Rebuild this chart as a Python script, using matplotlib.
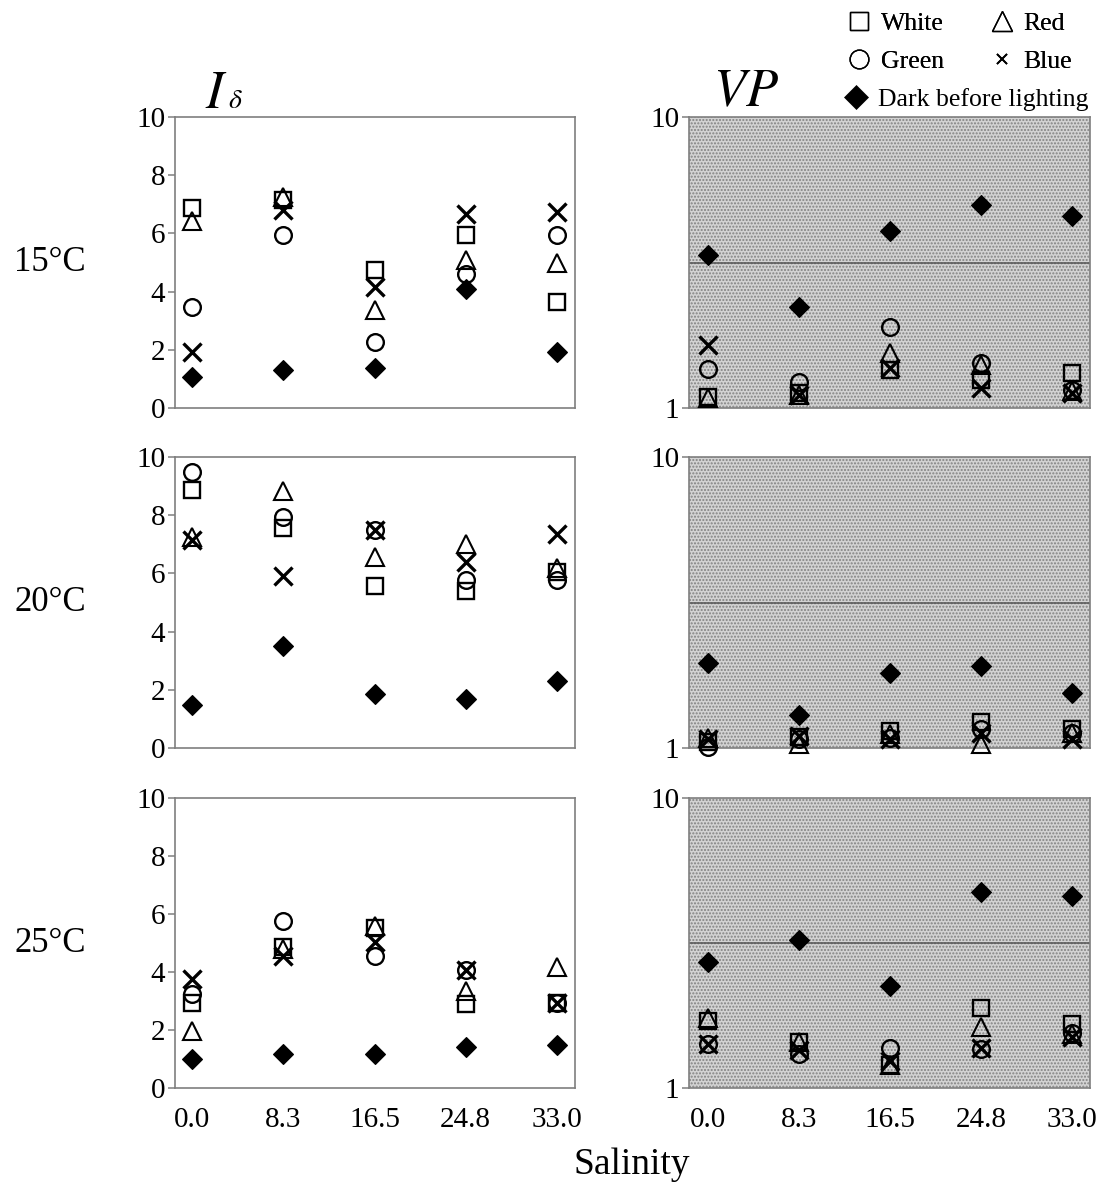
import numpy as np
import matplotlib
matplotlib.use("Agg")
import matplotlib.pyplot as plt
from matplotlib.lines import Line2D
from matplotlib.patches import Rectangle
from matplotlib.ticker import NullLocator

plt.rcParams['font.family'] = ['Liberation Serif', 'DejaVu Serif']
plt.rcParams['mathtext.fontset'] = 'stix'
plt.rcParams['hatch.linewidth'] = 1.0

# ---------------- data ----------------
salinity_labels = ["0.0", "8.3", "16.5", "24.8", "33.0"]
temperatures = ["15°C", "20°C", "25°C"]
series_names = ["White", "Red", "Green", "Blue", "Dark before lighting"]

# I_delta (linear axis)
id15_white = [6.88, 7.15, 4.73, 5.96, 3.65]
id15_red   = [6.44, 7.24, 3.36, 5.07, 4.98]
id15_green = [3.48, 5.93, 2.28, 4.62, 5.96]
id15_blue  = [1.92, 6.80, 4.16, 6.67, 6.75]
id15_dark  = [1.05, 1.29, 1.37, 4.10, 1.92]

id20_white = [8.86, 7.57, 5.55, 5.38, 6.06]
id20_red   = [7.25, 8.84, 6.57, 7.02, 6.17]
id20_green = [9.50, 7.95, 7.50, 5.77, 5.77]
id20_blue  = [7.14, 5.91, 7.50, 6.40, 7.36]
id20_dark  = [1.49, 3.52, 1.85, 1.70, 2.31]

id25_white = [2.93, 4.85, 5.53, 2.90, 2.92]
id25_red   = [1.98, 4.79, 5.59, 3.36, 4.16]
id25_green = [3.24, 5.76, 4.56, 4.07, 2.92]
id25_blue  = [3.76, 4.56, 5.02, 4.07, 2.92]
id25_dark  = [1.01, 1.18, 1.18, 1.41, 1.47]

# VP (log axis)
vp15_white = [1.09, 1.13, 1.35, 1.25, 1.32]
vp15_red   = [1.08, 1.11, 1.54, 1.40, 1.14]
vp15_green = [1.36, 1.23, 1.90, 1.43, 1.15]
vp15_blue  = [1.65, 1.11, 1.37, 1.17, 1.13]
vp15_dark  = [3.35, 2.23, 4.07, 4.99, 4.56]

vp20_white = [1.05, 1.09, 1.14, 1.23, 1.16]
vp20_red   = [1.08, 1.03, 1.12, 1.03, 1.13]
vp20_green = [1.01, 1.07, 1.08, 1.16, 1.13]
vp20_blue  = [1.07, 1.10, 1.07, 1.13, 1.07]
vp20_dark  = [1.96, 1.30, 1.81, 1.92, 1.55]

vp25_white = [1.70, 1.44, 1.20, 1.88, 1.66]
vp25_red   = [1.75, 1.44, 1.20, 1.62, 1.54]
vp25_green = [1.42, 1.31, 1.37, 1.36, 1.55]
vp25_blue  = [1.42, 1.35, 1.24, 1.37, 1.50]
vp25_dark  = [2.71, 3.25, 2.25, 4.75, 4.61]

vp_threshold = np.sqrt(10.0)

id_rows = [
    [id15_white, id15_red, id15_green, id15_blue, id15_dark],
    [id20_white, id20_red, id20_green, id20_blue, id20_dark],
    [id25_white, id25_red, id25_green, id25_blue, id25_dark],
]
vp_rows = [
    [vp15_white, vp15_red, vp15_green, vp15_blue, vp15_dark],
    [vp20_white, vp20_red, vp20_green, vp20_blue, vp20_dark],
    [vp25_white, vp25_red, vp25_green, vp25_blue, vp25_dark],
]

# ---------------- styles ----------------
styles = [
    dict(marker='s', ms=11.5, mfc='none', mec='black', mew=1.7),
    dict(marker='^', ms=12.5, mfc='none', mec='black', mew=1.5),
    dict(marker='o', ms=12.0, mfc='none', mec='black', mew=1.7),
    dict(marker='x', ms=13.5, mfc='none', mec='black', mew=2.4),
    dict(marker='D', ms=10.0, mfc='black', mec='black', mew=0.8),
]

W, H = 1101, 1191
fig = plt.figure(figsize=(W / 100, H / 100), dpi=100)

left_x0, left_w = 175 / W, 400 / W
right_x0, right_w = 689 / W, 401 / W
row_tops = [117, 457, 798]
row_bottoms = [408, 748, 1088]

spine_col = '#7f7f7f'
xpos = np.arange(len(salinity_labels))

axes_left, axes_right = [], []
for r in range(3):
    b = 1 - row_bottoms[r] / H
    h = (row_bottoms[r] - row_tops[r]) / H
    axL = fig.add_axes([left_x0, b, left_w, h])
    axR = fig.add_axes([right_x0, b, right_w, h])
    axes_left.append(axL)
    axes_right.append(axR)

    # left: I_delta
    for vals, st in zip(id_rows[r], styles):
        axL.plot(xpos, vals, linestyle='none', clip_on=False, **st)
    axL.set_xlim(-0.19, 4.2)
    axL.set_ylim(0, 10)
    axL.set_yticks([0, 2, 4, 6, 8, 10])

    # right: VP (stippled background)
    axR.add_patch(Rectangle((0, 0), 1, 1, transform=axR.transAxes,
                            facecolor='#d3d3d3', edgecolor='#828282',
                            hatch='.....', lw=0, zorder=0))
    axR.axhline(vp_threshold, color='#555555', lw=1.1, zorder=1)
    for vals, st in zip(vp_rows[r], styles):
        axR.plot(xpos, vals, linestyle='none', clip_on=False, zorder=3, **st)
    axR.set_yscale('log')
    axR.set_xlim(-0.21, 4.2)
    axR.set_ylim(1, 10)
    axR.set_yticks([1, 10])
    axR.set_yticklabels(['1', '10'])
    axR.yaxis.set_minor_locator(NullLocator())

    for ax in (axL, axR):
        ax.set_xticks(xpos)
        if r == 2:
            ax.set_xticklabels(salinity_labels)
        else:
            ax.set_xticklabels([])
        ax.tick_params(axis='x', length=0, pad=14, labelsize=21)
        ax.tick_params(axis='y', length=5, width=1.1, color=spine_col,
                       pad=2, labelsize=21, direction='out')
        for s in ax.spines.values():
            s.set_color(spine_col)
            s.set_linewidth(1.2)

    # row label
    fig.text(50 / W, 1 - (row_tops[r] + row_bottoms[r]) / 2 / H, temperatures[r],
             ha='center', va='center', fontsize=25)

# panel titles
axes_left[0].text(0.075, 1.03, r'$I$', transform=axes_left[0].transAxes,
                  fontsize=38, ha='left', va='baseline')
axes_left[0].text(0.133, 1.03, r'$\delta$', transform=axes_left[0].transAxes,
                  fontsize=20, ha='left', va='baseline')
axes_right[0].text(0.06, 1.035, r'$VP$', transform=axes_right[0].transAxes,
                   fontsize=38, ha='left', va='baseline')

# x label
fig.text(632 / W, 1 - 1165 / H, 'Salinity', ha='center', va='center', fontsize=27)

# legend
h_white = Line2D([], [], linestyle='none', marker='s', ms=13, mfc='none', mec='black', mew=1.0)
h_green = Line2D([], [], linestyle='none', marker='o', ms=13.5, mfc='none', mec='black', mew=1.0)
h_red = Line2D([], [], linestyle='none', marker='^', ms=14.5, mfc='none', mec='black', mew=1.0)
h_blue = Line2D([], [], linestyle='none', marker='x', ms=6.5, mfc='none', mec='black', mew=1.3)
h_dark = Line2D([], [], linestyle='none', marker='D', ms=12, mfc='black', mec='black', mew=0.5)

leg_kw = dict(frameon=False, fontsize=18.5, handlelength=0.7, handletextpad=0.5,
              borderpad=0, borderaxespad=0, loc='upper left')
leg1 = fig.legend([h_white, h_green, h_red, h_blue],
                  [series_names[0], series_names[2], series_names[1], series_names[3]],
                  ncol=2, bbox_to_anchor=(850 / W, 1 - 12 / H),
                  columnspacing=1.9, labelspacing=0.6, **leg_kw)
fig.add_artist(leg1)
leg2 = fig.legend([h_dark], [series_names[4]],
                  bbox_to_anchor=(847 / W, 1 - 88 / H), **leg_kw)

fig.savefig('out.png', dpi=100)
